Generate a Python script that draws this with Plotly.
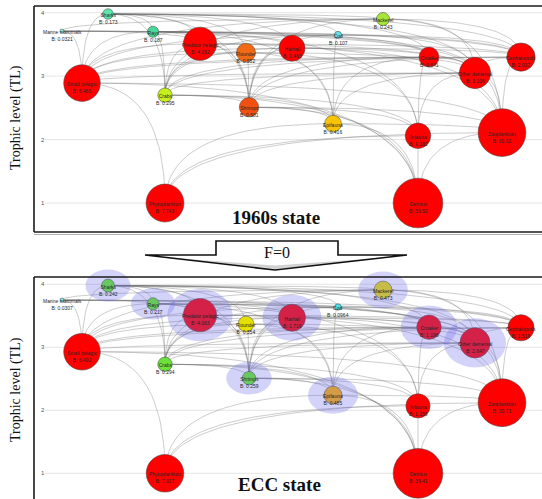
import plotly.graph_objects as go
import math

W, H = 542, 499

# Functional groups of the food-web model
groups = ["Marine mammals", "Sharks", "Rays", "Predator pelagic", "Flounder",
          "Hairtail", "Cod", "Mackerel", "Croaker", "Other demersal",
          "Cephalopods", "Small pelagic", "Crabs", "Shrimps", "Epifauna",
          "Infauna", "Zooplankton", "Phytoplankton", "Detritus"]

# Trophic level and biomass (t/km2) of each group, 1960s state
tl_1960 = [3.71, 3.98, 3.70, 3.51, 3.37, 3.44, 3.65, 3.90, 3.30, 3.05,
           3.30, 2.89, 2.70, 2.51, 2.25, 2.06, 2.11, 1.00, 1.00]
b_1960 = [0.0321, 0.173, 0.187, 4.052, 0.552, 1.463, 0.107, 0.243, 0.641, 3.106,
          2.027, 6.465, 0.295, 0.581, 0.416, 1.382, 30.32, 7.743, 39.52]

# Trophic level and biomass of each group, ECC state (F = 0)
tl_ecc = [3.75, 3.98, 3.69, 3.51, 3.37, 3.47, 3.64, 3.91, 3.32, 3.07,
          3.31, 2.93, 2.73, 2.51, 2.24, 2.07, 2.12, 1.00, 1.00]
b_ecc = [0.0307, 0.242, 0.217, 4.063, 0.354, 1.719, 0.0964, 0.473, 1.196, 2.647,
         1.516, 6.492, 0.294, 0.259, 0.485, 1.156, 30.73, 7.327, 39.41]

# Groups whose biomass changed markedly between the two states
changed = ["Sharks", "Rays", "Predator pelagic", "Hairtail", "Mackerel",
           "Croaker", "Other demersal", "Shrimps", "Epifauna"]

# Diet links: predator -> prey groups
diet = {
    "Marine mammals": ["Small pelagic", "Hairtail", "Predator pelagic", "Cephalopods",
                       "Croaker", "Other demersal", "Mackerel"],
    "Sharks": ["Small pelagic", "Predator pelagic", "Hairtail", "Cephalopods", "Croaker",
               "Other demersal", "Rays", "Flounder", "Mackerel", "Cod", "Crabs", "Shrimps"],
    "Rays": ["Crabs", "Shrimps", "Epifauna", "Infauna", "Small pelagic", "Cephalopods",
             "Other demersal", "Croaker"],
    "Mackerel": ["Small pelagic", "Zooplankton", "Shrimps", "Cephalopods",
                 "Other demersal", "Crabs"],
    "Cod": ["Shrimps", "Crabs", "Small pelagic", "Cephalopods", "Epifauna", "Other demersal"],
    "Predator pelagic": ["Small pelagic", "Zooplankton", "Shrimps", "Cephalopods",
                         "Other demersal", "Crabs"],
    "Hairtail": ["Small pelagic", "Shrimps", "Cephalopods", "Zooplankton",
                 "Other demersal", "Crabs"],
    "Flounder": ["Shrimps", "Infauna", "Epifauna", "Crabs", "Small pelagic", "Other demersal"],
    "Croaker": ["Shrimps", "Infauna", "Epifauna", "Zooplankton", "Small pelagic", "Crabs"],
    "Cephalopods": ["Small pelagic", "Shrimps", "Zooplankton", "Other demersal", "Crabs"],
    "Other demersal": ["Shrimps", "Infauna", "Epifauna", "Zooplankton", "Crabs", "Small pelagic"],
    "Small pelagic": ["Zooplankton", "Phytoplankton", "Detritus"],
    "Crabs": ["Infauna", "Epifauna", "Detritus", "Shrimps"],
    "Shrimps": ["Zooplankton", "Infauna", "Detritus", "Epifauna"],
    "Epifauna": ["Zooplankton", "Detritus", "Phytoplankton"],
    "Infauna": ["Detritus", "Phytoplankton"],
    "Zooplankton": ["Phytoplankton", "Detritus"],
}

# Horizontal layout slot of each node (same in both panels)
x_slot = [62, 108, 153, 200, 246, 292, 338, 383, 429, 475,
          521, 82, 165, 249, 333, 418, 502, 165, 418]

RED = "#ff0000"
col_1960 = {"Marine mammals": "#8ee8e6", "Sharks": "#5ee6a6", "Rays": "#48d898",
            "Predator pelagic": RED, "Flounder": "#f26a14", "Hairtail": RED,
            "Cod": "#66e0ee", "Mackerel": "#a6e636", "Croaker": RED,
            "Other demersal": RED, "Cephalopods": RED, "Small pelagic": RED,
            "Crabs": "#c6f01c", "Shrimps": "#f2500e", "Epifauna": "#f8c404",
            "Infauna": RED, "Zooplankton": RED, "Phytoplankton": RED, "Detritus": RED}
col_ecc = {"Marine mammals": "#7ee8ea", "Sharks": "#66ee22", "Rays": "#66ee22",
           "Predator pelagic": RED, "Flounder": "#e6e000", "Hairtail": RED,
           "Cod": "#44e4f0", "Mackerel": "#eedf00", "Croaker": RED,
           "Other demersal": RED, "Cephalopods": RED, "Small pelagic": RED,
           "Crabs": "#6ee03c", "Shrimps": "#66f020", "Epifauna": "#ffb000",
           "Infauna": RED, "Zooplankton": RED, "Phytoplankton": RED, "Detritus": RED}


def radius(b):
    return max(2.0, 11.6 + 3.6 * math.log(b))


def px(x, y):
    return x / W, 1 - y / H


fig = go.Figure()
shapes = []
annotations = []

panels = [
    dict(tl=tl_1960, b=b_1960, col=col_1960, xa="x", ya="y", halo=False),
    dict(tl=tl_ecc, b=b_ecc, col=col_ecc, xa="x2", ya="y2", halo=True),
]

for p in panels:
    pos = {g: (x_slot[i], p["tl"][i]) for i, g in enumerate(groups)}
    # gridlines at integer trophic levels
    for lvl in [1, 2, 3, 4]:
        shapes.append(dict(type="line", xref=p["xa"], yref=p["ya"], x0=45, x1=542,
                           y0=lvl, y1=lvl, line=dict(color="#e4e4e4", width=1),
                           layer="below"))
    # curved trophic links
    for pred, preys in diet.items():
        for prey in preys:
            a, c = pos[prey], pos[pred]
            lo, hi = (a, c) if a[1] <= c[1] else (c, a)
            cx, cy = lo[0], hi[1]
            xs, ys = [], []
            n = 30
            for k in range(n + 1):
                t = k / n
                w0, w1, w2 = (1 - t) ** 2, 2 * t * (1 - t), t * t
                xs.append(w0 * lo[0] + w1 * cx + w2 * hi[0])
                ys.append(w0 * lo[1] + w1 * cy + w2 * hi[1])
            fig.add_trace(go.Scatter(x=xs, y=ys, mode="lines", xaxis=p["xa"], yaxis=p["ya"],
                                     line=dict(color="rgba(105,105,105,0.42)", width=0.8),
                                     hoverinfo="skip", showlegend=False))
    # nodes
    fig.add_trace(go.Scatter(
        x=x_slot, y=p["tl"], mode="markers", xaxis=p["xa"], yaxis=p["ya"],
        marker=dict(size=[2 * radius(v) for v in p["b"]],
                    color=[p["col"][g] for g in groups], opacity=1,
                    line=dict(color="rgba(70,70,70,0.9)", width=0.6)),
        cliponaxis=False, hoverinfo="skip", showlegend=False))
    # node labels
    for i, g in enumerate(groups):
        annotations.append(dict(x=x_slot[i], y=p["tl"][i], xref=p["xa"], yref=p["ya"],
                                text=f"{g}<br>B: {p['b'][i]}", showarrow=False, yshift=-4.5,
                                xanchor="center", yanchor="middle",
                                font=dict(family="Liberation Sans", size=5, color="#262626")))
    # highlight halos
    if p["halo"]:
        for i, g in enumerate(groups):
            if g in changed:
                r = radius(p["b"][i])
                rx, ry = r + 16, r + 9.5
                shapes.append(dict(type="circle", xref=p["xa"], yref=p["ya"],
                                   xsizemode="pixel", ysizemode="pixel",
                                   xanchor=x_slot[i], yanchor=p["tl"][i],
                                   x0=-rx, x1=rx, y0=-ry, y1=ry,
                                   fillcolor="rgba(110,110,235,0.30)",
                                   line=dict(width=0), layer="above"))


def hline(x0, x1, y, color="#1a1a1a", width=1.6):
    a, b = px(x0, y), px(x1, y)
    return dict(type="line", xref="paper", yref="paper", x0=a[0], y0=a[1], x1=b[0], y1=b[1],
                line=dict(color=color, width=width), layer="above")


def vline(x, y0, y1, color="#1a1a1a", width=1.6):
    a, b = px(x, y0), px(x, y1)
    return dict(type="line", xref="paper", yref="paper", x0=a[0], y0=a[1], x1=b[0], y1=b[1],
                line=dict(color=color, width=width), layer="above")


# panel frames
shapes += [hline(34, 545, 6), vline(34, 6, 232), hline(34, 545, 232),
           hline(34, 545, 234.5, color="#b0b0b0", width=1),
           hline(34, 545, 277), vline(34, 277, 505)]

# transition arrow
pts = [(145, 255), (216, 255), (216, 241), (338, 241), (338, 255), (407, 255), (275, 270)]
path = "M " + " L ".join(f"{px(*q)[0]:.5f},{px(*q)[1]:.5f}" for q in pts) + " Z"
shapes.append(dict(type="path", xref="paper", yref="paper", path=path,
                   fillcolor="white", line=dict(color="#111", width=1.6), layer="above"))
sh = [(152, 256.5), (275, 269), (400, 256.5), (275, 265.5)]
path2 = "M " + " L ".join(f"{px(*q)[0]:.5f},{px(*q)[1]:.5f}" for q in sh) + " Z"
shapes.append(dict(type="path", xref="paper", yref="paper", path=path2,
                   fillcolor="rgba(0,0,0,0.18)", line=dict(width=0), layer="above"))

serif = "Liberation Serif"


def note(tx, ty, txt, size, angle=0):
    a = px(tx, ty)
    annotations.append(dict(x=a[0], y=a[1], xref="paper", yref="paper", text=txt,
                            textangle=angle, showarrow=False,
                            xanchor="center", yanchor="middle",
                            font=dict(family=serif, size=size, color="#111")))


note(277, 253, "F=0", 16)
note(276, 217, "<b>1960s state</b>", 19)
note(279, 484, "<b>ECC state</b>", 19)
note(16, 118, "Trophic level (TL)", 14, -90)
note(16, 390, "Trophic level (TL)", 14, -90)

xdom = [34 / W, 1]
yax_common = dict(tickvals=[1, 2, 3, 4], ticktext=["1", "2", "3", "4"], showgrid=False,
                  zeroline=False, showline=False, ticks="", ticklabelposition="inside",
                  ticklabelstandoff=4, tickfont=dict(family="Liberation Sans", size=6, color="#555"))
xax_common = dict(range=[34, 542], domain=xdom, showgrid=False, zeroline=False,
                  showticklabels=False, showline=False, ticks="")

fig.update_layout(
    width=W, height=H, margin=dict(l=0, r=0, t=0, b=0),
    paper_bgcolor="white", plot_bgcolor="white", showlegend=False,
    xaxis=dict(**xax_common, anchor="y"),
    yaxis=dict(**yax_common, anchor="x", domain=[1 - 232 / H, 1 - 6 / H], range=[0.5433, 4.1055]),
    xaxis2=dict(**xax_common, anchor="y2"),
    yaxis2=dict(**yax_common, anchor="x2", domain=[0, 1 - 262 / H], range=[0.592, 4.354]),
    shapes=shapes, annotations=annotations,
)

fig.write_html("out.html")
